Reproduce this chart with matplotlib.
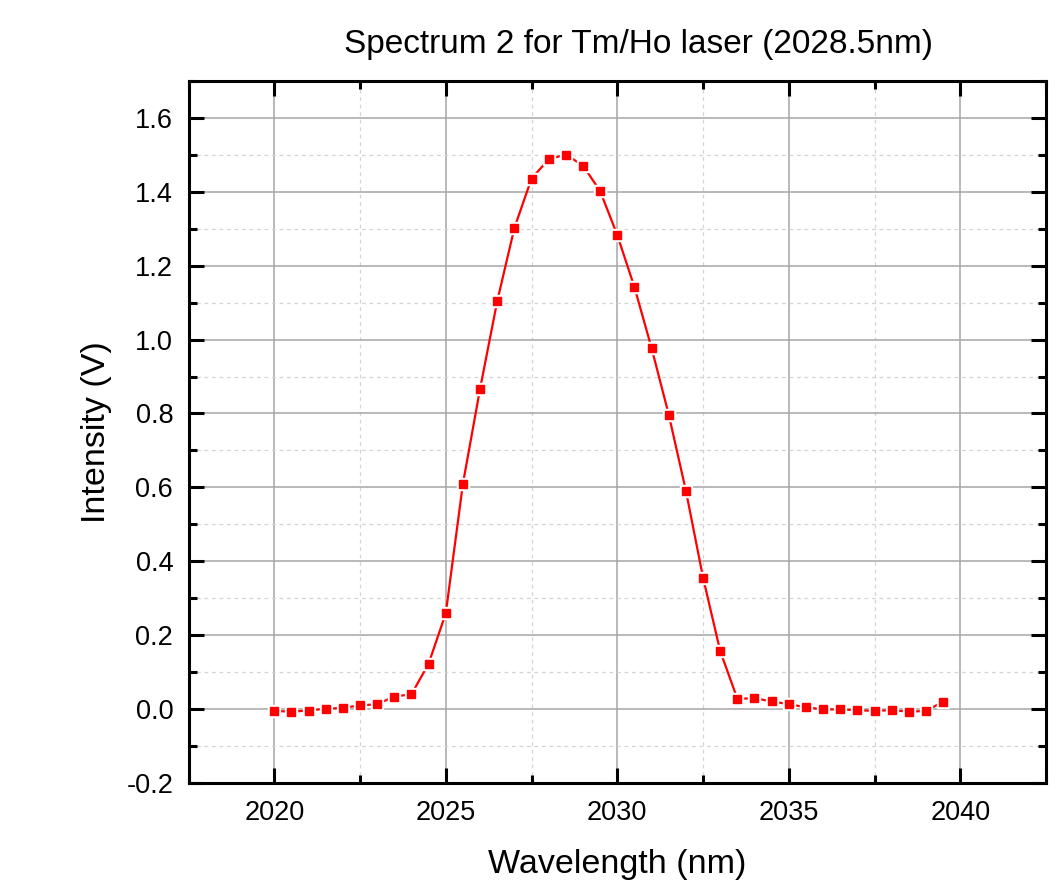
import numpy as np
import matplotlib
matplotlib.use('Agg')
import matplotlib.pyplot as plt
from matplotlib.ticker import MultipleLocator

plt.rcParams['font.family'] = ['Liberation Sans', 'DejaVu Sans']
plt.rcParams['axes.unicode_minus'] = False

### data
wavelength = [2020.0, 2020.5, 2021.0, 2021.5, 2022.0, 2022.5, 2023.0, 2023.5,
              2024.0, 2024.5, 2025.0, 2025.5, 2026.0, 2026.5, 2027.0, 2027.5,
              2028.0, 2028.5, 2029.0, 2029.5, 2030.0, 2030.5, 2031.0, 2031.5,
              2032.0, 2032.5, 2033.0, 2033.5, 2034.0, 2034.5, 2035.0, 2035.5,
              2036.0, 2036.5, 2037.0, 2037.5, 2038.0, 2038.5, 2039.0, 2039.5]
intensity = [-0.005, -0.007, -0.004, 0.001, 0.003, 0.010, 0.013, 0.034,
             0.040, 0.123, 0.259, 0.610, 0.867, 1.104, 1.302, 1.436,
             1.488, 1.501, 1.471, 1.402, 1.283, 1.142, 0.977, 0.797,
             0.591, 0.356, 0.157, 0.028, 0.029, 0.021, 0.013, 0.005,
             -0.001, -0.001, -0.003, -0.005, -0.003, -0.007, -0.005, 0.020]

title = 'Spectrum 2 for Tm/Ho laser (2028.5nm)'
xlabel = 'Wavelength (nm)'
ylabel = 'Intensity (V)'

fig = plt.figure(figsize=(10.62, 8.86), dpi=100)
ax = fig.add_axes([0.1775, 0.1163, 0.985 - 0.1775, 0.9086 - 0.1163])

# line, then white squares to cut a gap round each marker, then red squares
ax.plot(wavelength, intensity, color='red', lw=1.6, zorder=3)
ax.plot(wavelength, intensity, ls='none', marker='s', ms=9.0,
        color='white', zorder=4)
ax.plot(wavelength, intensity, ls='none', marker='s', ms=6.0,
        color='red', zorder=5)

ax.set_xlim(2017.5, 2042.5)
ax.set_ylim(-0.2, 1.7)
ax.xaxis.set_major_locator(MultipleLocator(5))
ax.xaxis.set_minor_locator(MultipleLocator(2.5))
ax.yaxis.set_major_locator(MultipleLocator(0.2))
ax.yaxis.set_minor_locator(MultipleLocator(0.1))
ax.yaxis.set_major_formatter(plt.FormatStrFormatter('%.1f'))

ax.grid(which='major', color='#a6a6a6', lw=1.1, ls='-', zorder=1)
ax.grid(which='minor', color='#d4d4d4', lw=0.9, ls=(0, (3, 3)), zorder=1)

ax.tick_params(which='both', direction='in', top=True, right=True,
               width=2.2, labelsize=19.5)
ax.tick_params(axis='x', which='both', pad=12)
ax.tick_params(axis='y', which='both', pad=11)
ax.tick_params(which='major', length=11)
ax.tick_params(which='minor', length=6)
for s in ax.spines.values():
    s.set_linewidth(2.2)

ax.set_xlabel(xlabel, fontsize=24.5, labelpad=17)
ax.set_ylabel(ylabel, fontsize=24.5, labelpad=10)
fig.text(638 / 1062, 1 - 45 / 886, title, fontsize=24, ha='center', va='center')

fig.savefig('out.png', dpi=100)
